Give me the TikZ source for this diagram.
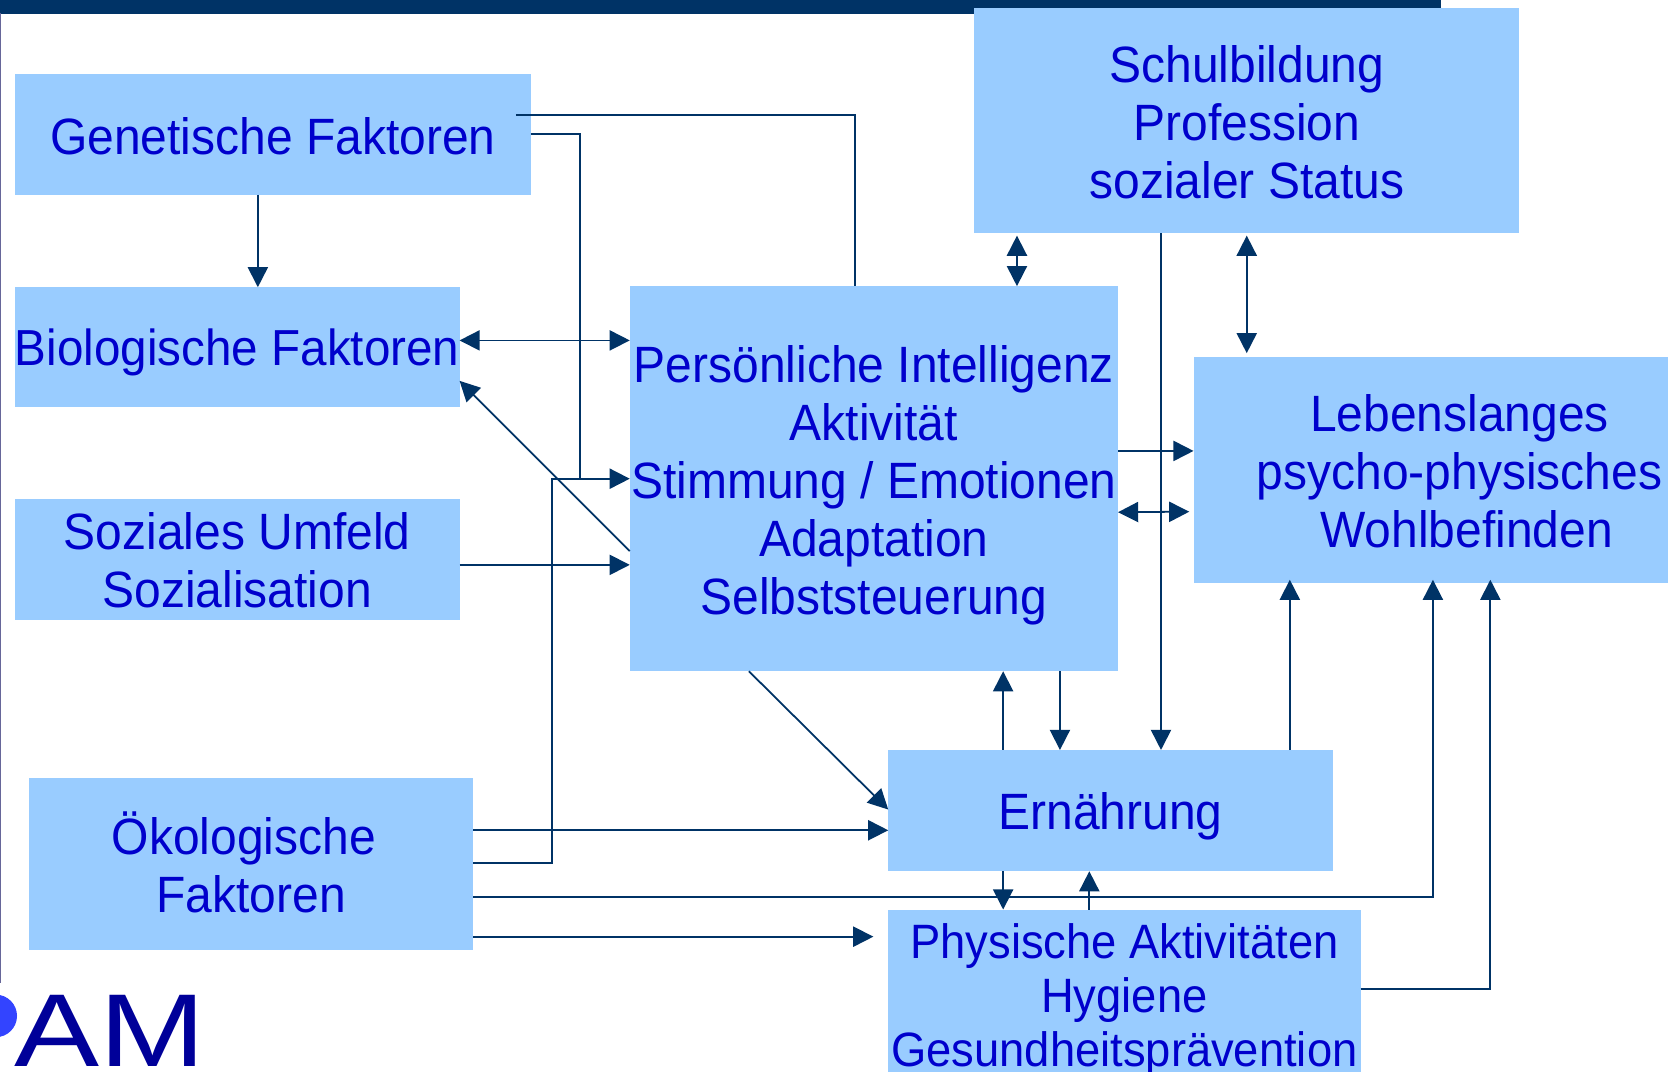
\documentclass[tikz,border=0pt]{standalone}
\usepackage{fontspec}
\setmainfont[FakeStretch=0.94]{Liberation Sans}
\usetikzlibrary{arrows.meta}
\definecolor{boxblue}{HTML}{99CCFF}
\definecolor{txtblue}{HTML}{0000CC}
\definecolor{navy}{HTML}{003366}
\definecolor{sideline}{HTML}{666699}
\definecolor{logodark}{HTML}{000099}
\definecolor{logodot}{HTML}{3344FF}
\tikzset{
  box/.style={anchor=north west,fill=boxblue,text=txtblue,inner sep=0pt,outer sep=0pt,align=center,
    font=\fontsize{36}{40.9}\selectfont},
  conn/.style={draw=navy,line width=1.25pt},
  arr/.style={conn,-{Triangle[length=14.2pt,width=14.2pt]}},
  dbl/.style={conn,{Triangle[length=14.2pt,width=14.2pt]}-{Triangle[length=14.2pt,width=14.2pt]}}
}
\newcommand{\bx}[6]{\node[box,minimum width=#3*0.75pt,minimum height=#4*0.75pt,#5] (#1) at (#2) {#6};}
\newcommand{\dn}[1]{\rule{0pt}{#1pt}}
\begin{document}
\begin{tikzpicture}[x=0.75pt,y=0.75pt]
\clip (0,0) rectangle (1568,-1007.7);
\fill[white] (0,0) rectangle (1568,-1007.7);
% slide decoration
\fill[navy] (0,0) rectangle (1355,-13);
\fill[sideline] (0,-12) rectangle (1.2,-924);
\fill[logodot] (-4,-955) circle (20);
\node[anchor=base west,inner sep=0pt,text depth=0pt,text=logodark,font=\fontsize{73}{73}\selectfont,xscale=1.31] (logo) at (13,-1003) {AM};
% boxes
\bx{gen}{14,-70}{485}{113}{}{\dn{28}Genetische Faktoren}
\bx{bio}{14,-270}{418}{113}{font=\fontsize{35.7}{40.9}\selectfont}{\dn{33.4}Biologische Faktoren}
\bx{soz}{14,-469}{418}{113.5}{}{\dn{27}Soziales Umfeld\\Sozialisation}
\bx{oko}{27,-731}{418}{162}{}{Ökologische\hspace*{10pt}\\Faktoren\rule[-3pt]{0pt}{0pt}}
\bx{per}{592,-269}{459}{362}{}{\dn{36}Persönliche Intelligenz\\Aktivität\\Stimmung / Emotionen\\Adaptation\\Selbststeuerung}
\bx{sch}{916,-7.5}{512}{212}{}{\dn{28}Schulbildung\\Profession\\sozialer Status}
\bx{leb}{1122,-336}{500}{212.5}{}{\dn{27.7}Lebenslanges\\psycho-physisches\\\hspace*{10pt}Wohlbefinden}
\bx{ern}{835,-705}{418}{114}{}{\dn{34}Ernährung}
\bx{phy}{835,-855}{444}{161}{font=\fontsize{34}{38.4}\selectfont}{\dn{31.5}Physische Aktivitäten\\Hygiene\\Gesundheitsprävention}
% free ends
\coordinate (gs) at (485,-108);
\coordinate (pf) at (821,-880.5);
\coordinate (lf) at (1118,-481);
% connectors
\draw[arr] (gen.south -| 242.4,0) -- (bio.north -| 242.4,0);
\draw[conn] (gs) -- (804,-108) -- (per.north -| 804,0);
\draw[conn] (gen.east |- 0,-126) -- (545,-126) -- (545,-450);
\draw[dbl] (bio.east |- 0,-320) -- (per.west |- 0,-320);
\draw[arr] (per.west |- 0,-518) -- (bio.south east |- 432,-358);
\draw[arr] (soz.east |- 0,-531) -- (per.west |- 0,-531);
\draw[arr] (oko.east |- 0,-811) -- (519,-811) -- (519,-450) -- (per.west |- 0,-450);
\draw[arr] (oko.east |- 0,-780.5) -- (ern.west |- 0,-780.5);
\draw[arr] (oko.east |- 0,-843) -- (1347,-843) -- (1347,-545);
\draw[arr] (oko.east |- 0,-880.5) -- (pf);
\draw[arr] (per.south -| 704,0) -- (ern.west |- 0,-761);
\draw[arr] (ern.north -| 943,0) -- (per.south -| 943,0);
\draw[arr] (per.south -| 996.4,0) -- (ern.north -| 996.4,0);
\draw[arr] (sch.south -| 1091.4,0) -- (ern.north -| 1091.4,0);
\draw[dbl] ([yshift=-1.5pt]sch.south -| 956,0) -- (per.north -| 956,0);
\draw[dbl] ([yshift=-1.5pt]sch.south -| 1172,0) -- (1172,-332);
\draw[arr] (per.east |- 0,-423.9) -- (leb.west |- 0,-423.9);
\draw[dbl] (per.east |- 0,-481.5) -- (lf);
\draw[arr] (ern.north -| 1212.5,0) -- (1212.5,-545);
\draw[arr] (ern.south -| 943,0) -- (phy.north -| 943,0);
\draw[arr] (phy.north -| 1024,0) -- (ern.south -| 1024,0);
\draw[arr] (phy.east |- 0,-930) -- (1401,-930) -- (1401,-545);
\end{tikzpicture}
\end{document}
